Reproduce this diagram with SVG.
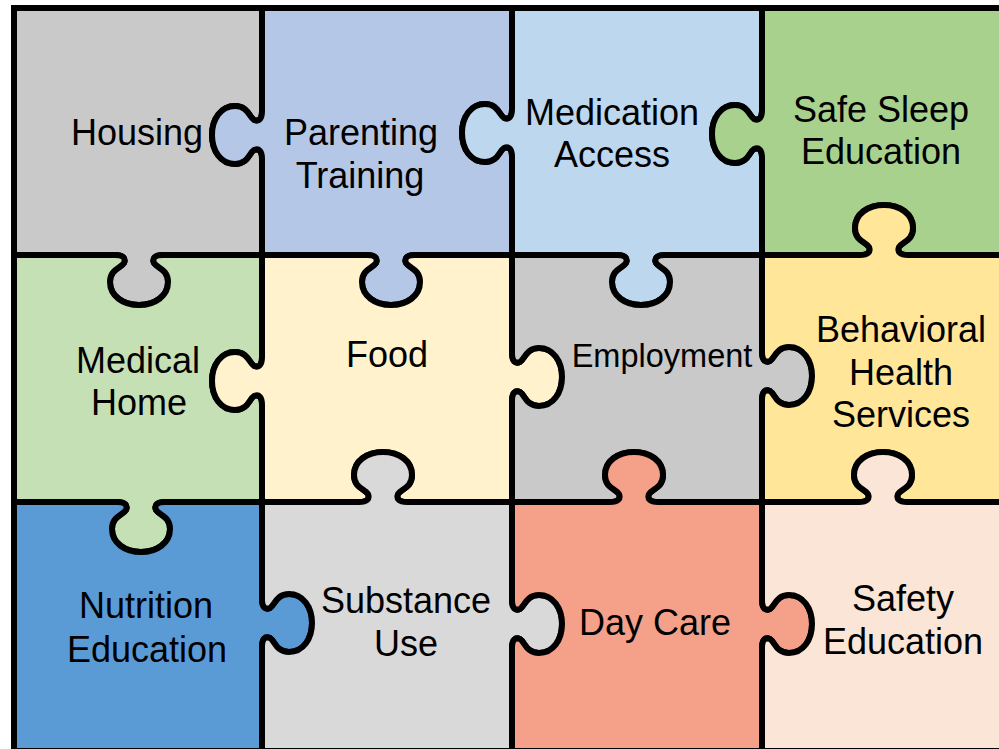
<svg xmlns="http://www.w3.org/2000/svg" width="999" height="749" viewBox="0 0 999 749">
<style>
.pc{stroke:#000;stroke-width:6;stroke-linejoin:miter}
.t{font-family:"Liberation Sans",Arial,sans-serif;font-size:36px;fill:#000;text-anchor:middle}
.ts{font-size:32.5px}
</style>
<rect width="999" height="749" fill="#fff"/>
<g id="housing">
<path class="pc" fill="#c9c9c9" d="M 14 8 L 262 8 L 262 111 C 262 119 259 122 254 120 C 249 117 248 106 235 106 C 221 106 212 119 212 135 C 212 151 221 164 235 164 C 248 164 249 153 254 150 C 259 148 262 151 262 159 L 262 255 L 163 255 C 155 255 152 258 154 263 C 157 268 168 269 168 282 C 168 296 155 305 139 305 C 123 305 110 296 110 282 C 110 269 121 268 124 263 C 126 258 123 255 115 255 L 14 255 Z"/>
<text class="t" x="137" y="145">Housing</text>
</g>
<g id="parenting-training">
<path class="pc" fill="#b4c7e7" d="M 262 8 L 512 8 L 512 109 C 512 117 509 120 504 118 C 499 115 498 104 485 104 C 471 104 462 117 462 133 C 462 149 471 162 485 162 C 498 162 499 151 504 148 C 509 146 512 149 512 157 L 512 255 L 415 255 C 407 255 404 258 406 263 C 409 268 420 269 420 282 C 420 296 407 305 391 305 C 375 305 362 296 362 282 C 362 269 373 268 376 263 C 378 258 375 255 367 255 L 262 255 L 262 159 C 262 151 259 148 254 150 C 249 153 248 164 235 164 C 221 164 212 151 212 135 C 212 119 221 106 235 106 C 248 106 249 117 254 120 C 259 122 262 119 262 111 Z"/>
<text class="t" x="361" y="145">Parenting</text>
<text class="t" x="360" y="188">Training</text>
</g>
<g id="medication-access">
<path class="pc" fill="#bdd7ee" d="M 512 8 L 762 8 L 762 110 C 762 118 759 121 754 119 C 749 116 748 105 735 105 C 721 105 712 118 712 134 C 712 150 721 163 735 163 C 748 163 749 152 754 149 C 759 147 762 150 762 158 L 762 255 L 665 255 C 657 255 654 258 656 263 C 659 268 670 269 670 282 C 670 296 657 305 641 305 C 625 305 612 296 612 282 C 612 269 623 268 626 263 C 628 258 625 255 617 255 L 512 255 L 512 157 C 512 149 509 146 504 148 C 499 151 498 162 485 162 C 471 162 462 149 462 133 C 462 117 471 104 485 104 C 498 104 499 115 504 118 C 509 120 512 117 512 109 Z"/>
<text class="t" x="612" y="125">Medication</text>
<text class="t" x="612" y="167">Access</text>
</g>
<g id="safe-sleep-education">
<path class="pc" fill="#a9d18e" d="M 762 8 L 1010 8 L 1010 255 L 908 255 C 900 255 897 252 899 247 C 902 242 913 241 913 228 C 913 214 900 205 884 205 C 868 205 855 214 855 228 C 855 241 866 242 869 247 C 871 252 868 255 860 255 L 762 255 L 762 158 C 762 150 759 147 754 149 C 749 152 748 163 735 163 C 721 163 712 150 712 134 C 712 118 721 105 735 105 C 748 105 749 116 754 119 C 759 121 762 118 762 110 Z"/>
<text class="t" x="881" y="122">Safe Sleep</text>
<text class="t" x="881" y="164">Education</text>
</g>
<g id="medical-home">
<path class="pc" fill="#c5e0b4" d="M 14 255 L 115 255 C 123 255 126 258 124 263 C 121 268 110 269 110 282 C 110 296 123 305 139 305 C 155 305 168 296 168 282 C 168 269 157 268 154 263 C 152 258 155 255 163 255 L 262 255 L 262 357 C 262 365 259 368 254 366 C 249 363 248 352 235 352 C 221 352 212 365 212 381 C 212 397 221 410 235 410 C 248 410 249 399 254 396 C 259 394 262 397 262 405 L 262 502 L 165 502 C 157 502 154 505 156 510 C 159 515 170 516 170 529 C 170 543 157 552 141 552 C 125 552 112 543 112 529 C 112 516 123 515 126 510 C 128 505 125 502 117 502 L 14 502 Z"/>
<text class="t" x="138" y="373">Medical</text>
<text class="t" x="139" y="415">Home</text>
</g>
<g id="food">
<path class="pc" fill="#fff2cc" d="M 262 255 L 367 255 C 375 255 378 258 376 263 C 373 268 362 269 362 282 C 362 296 375 305 391 305 C 407 305 420 296 420 282 C 420 269 409 268 406 263 C 404 258 407 255 415 255 L 512 255 L 512 353 C 512 361 515 364 520 362 C 525 359 526 348 539 348 C 553 348 562 361 562 377 C 562 393 553 406 539 406 C 526 406 525 395 520 392 C 515 390 512 393 512 401 L 512 502 L 407 502 C 399 502 396 499 398 494 C 401 489 412 488 412 475 C 412 461 399 452 383 452 C 367 452 354 461 354 475 C 354 488 365 489 368 494 C 370 499 367 502 359 502 L 262 502 L 262 405 C 262 397 259 394 254 396 C 249 399 248 410 235 410 C 221 410 212 397 212 381 C 212 365 221 352 235 352 C 248 352 249 363 254 366 C 259 368 262 365 262 357 Z"/>
<text class="t" x="387" y="367">Food</text>
</g>
<g id="employment">
<path class="pc" fill="#c9c9c9" d="M 512 255 L 617 255 C 625 255 628 258 626 263 C 623 268 612 269 612 282 C 612 296 625 305 641 305 C 657 305 670 296 670 282 C 670 269 659 268 656 263 C 654 258 657 255 665 255 L 762 255 L 762 352 C 762 360 765 363 770 361 C 775 358 776 347 789 347 C 803 347 812 360 812 376 C 812 392 803 405 789 405 C 776 405 775 394 770 391 C 765 389 762 392 762 400 L 762 502 L 658 502 C 650 502 647 499 649 494 C 652 489 663 488 663 475 C 663 461 650 452 634 452 C 618 452 605 461 605 475 C 605 488 616 489 619 494 C 621 499 618 502 610 502 L 512 502 L 512 401 C 512 393 515 390 520 392 C 525 395 526 406 539 406 C 553 406 562 393 562 377 C 562 361 553 348 539 348 C 526 348 525 359 520 362 C 515 364 512 361 512 353 Z"/>
<text class="t ts" x="662" y="367">Employment</text>
</g>
<g id="behavioral-health-services">
<path class="pc" fill="#ffe699" d="M 762 255 L 860 255 C 868 255 871 252 869 247 C 866 242 855 241 855 228 C 855 214 868 205 884 205 C 900 205 913 214 913 228 C 913 241 902 242 899 247 C 897 252 900 255 908 255 L 1010 255 L 1010 502 L 907 502 C 899 502 896 499 898 494 C 901 489 912 488 912 475 C 912 461 899 452 883 452 C 867 452 854 461 854 475 C 854 488 865 489 868 494 C 870 499 867 502 859 502 L 762 502 L 762 400 C 762 392 765 389 770 391 C 775 394 776 405 789 405 C 803 405 812 392 812 376 C 812 360 803 347 789 347 C 776 347 775 358 770 361 C 765 363 762 360 762 352 Z"/>
<text class="t" x="901" y="342">Behavioral</text>
<text class="t" x="901" y="385">Health</text>
<text class="t" x="901" y="427">Services</text>
</g>
<g id="nutrition-education">
<path class="pc" fill="#5b9bd5" d="M 14 502 L 117 502 C 125 502 128 505 126 510 C 123 515 112 516 112 529 C 112 543 125 552 141 552 C 157 552 170 543 170 529 C 170 516 159 515 156 510 C 154 505 157 502 165 502 L 262 502 L 262 599 C 262 607 265 610 270 608 C 275 605 276 594 289 594 C 303 594 312 607 312 623 C 312 639 303 652 289 652 C 276 652 275 641 270 638 C 265 636 262 639 262 647 L 262 751 L 14 751 Z"/>
<text class="t" x="146" y="618">Nutrition</text>
<text class="t" x="147" y="662">Education</text>
</g>
<g id="substance-use">
<path class="pc" fill="#d9d9d9" d="M 262 502 L 359 502 C 367 502 370 499 368 494 C 365 489 354 488 354 475 C 354 461 367 452 383 452 C 399 452 412 461 412 475 C 412 488 401 489 398 494 C 396 499 399 502 407 502 L 512 502 L 512 600 C 512 608 515 611 520 609 C 525 606 526 595 539 595 C 553 595 562 608 562 624 C 562 640 553 653 539 653 C 526 653 525 642 520 639 C 515 637 512 640 512 648 L 512 751 L 262 751 L 262 647 C 262 639 265 636 270 638 C 275 641 276 652 289 652 C 303 652 312 639 312 623 C 312 607 303 594 289 594 C 276 594 275 605 270 608 C 265 610 262 607 262 599 Z"/>
<text class="t" x="406" y="613">Substance</text>
<text class="t" x="406" y="656">Use</text>
</g>
<g id="day-care">
<path class="pc" fill="#f5a088" d="M 512 502 L 610 502 C 618 502 621 499 619 494 C 616 489 605 488 605 475 C 605 461 618 452 634 452 C 650 452 663 461 663 475 C 663 488 652 489 649 494 C 647 499 650 502 658 502 L 762 502 L 762 600 C 762 608 765 611 770 609 C 775 606 776 595 789 595 C 803 595 812 608 812 624 C 812 640 803 653 789 653 C 776 653 775 642 770 639 C 765 637 762 640 762 648 L 762 751 L 512 751 L 512 648 C 512 640 515 637 520 639 C 525 642 526 653 539 653 C 553 653 562 640 562 624 C 562 608 553 595 539 595 C 526 595 525 606 520 609 C 515 611 512 608 512 600 Z"/>
<text class="t" x="655" y="635">Day Care</text>
</g>
<g id="safety-education">
<path class="pc" fill="#fbe5d6" d="M 762 502 L 859 502 C 867 502 870 499 868 494 C 865 489 854 488 854 475 C 854 461 867 452 883 452 C 899 452 912 461 912 475 C 912 488 901 489 898 494 C 896 499 899 502 907 502 L 1010 502 L 1010 751 L 762 751 L 762 648 C 762 640 765 637 770 639 C 775 642 776 653 789 653 C 803 653 812 640 812 624 C 812 608 803 595 789 595 C 776 595 775 606 770 609 C 765 611 762 608 762 600 Z"/>
<text class="t" x="903" y="611">Safety</text>
<text class="t" x="903" y="654">Education</text>
</g>
</svg>
